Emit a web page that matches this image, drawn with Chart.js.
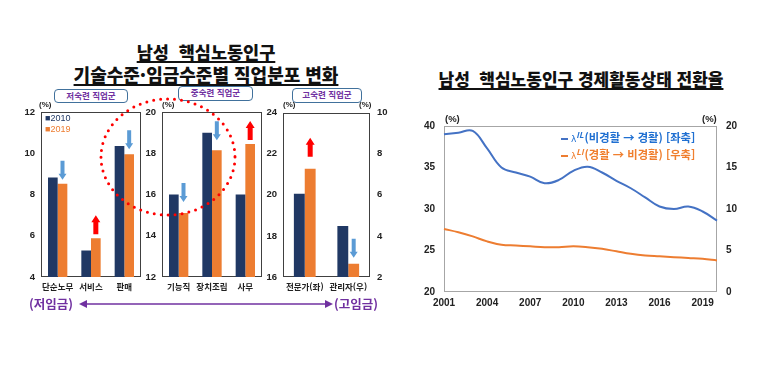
<!DOCTYPE html>
<html lang="ko">
<head>
<meta charset="utf-8">
<script src="https://cdn.jsdelivr.net/npm/chart.js@4"></script>
<style>
  html, body { margin: 0; padding: 0; background: #fff; }
  #page { position: relative; width: 779px; height: 382px; overflow: hidden; font-family: "Noto Sans CJK KR", sans-serif; }
  canvas { position: absolute; }
  .abs { position: absolute; white-space: nowrap; }
  .title { font-weight: 900; color: #111; text-align: center; text-decoration: underline; text-decoration-thickness: 1.5px; text-underline-offset: 2px; text-decoration-skip-ink: none; }
  .tag { position: absolute; border: 1.5px solid #41719C; border-radius: 4px; color: #7030A0; font-weight: 700; font-size: 8.5px; line-height: 11px; text-align: center; box-sizing: border-box; background: #fff; }
  .pct { position: absolute; font: bold 8px "Liberation Sans", Arial, sans-serif; color: #222; }
  .leg { position: absolute; font: 9px "Liberation Sans", Arial, sans-serif; line-height: 11px; }
  .lg { position: absolute; font-weight: 700; font-size: 11.3px; line-height: 14px; white-space: nowrap; }
  .lg .sw { display: inline-block; width: 7px; height: 2px; vertical-align: middle; margin-right: 3px; }
  .lg .lam { font-weight: 400; font-family: "DejaVu Sans", sans-serif; font-size: 9px; }
  .lg sup { font-style: italic; font-size: 8px; vertical-align: 4px; margin-right: 1px; }
</style>
</head>
<body>
<div id="page">
  <div class="abs title" style="left:0;width:412px;top:42px;font-size:17.5px;line-height:20px;">남성&nbsp;&nbsp;핵심노동인구</div>
  <div class="abs title" style="left:0;width:412px;top:64px;font-size:18px;line-height:20px;">기술수준·임금수준별 직업분포 변화</div>
  <div class="abs title" style="left:400px;width:362px;top:69px;font-size:17px;line-height:20px;">남성&nbsp;&nbsp;핵심노동인구 경제활동상태 전환율</div>

  <div class="tag" style="left:54px;top:89px;width:74px;height:14px;">저숙련 직업군</div>
  <div class="tag" style="left:178px;top:86px;width:75px;height:15px;">중숙련 직업군</div>
  <div class="tag" style="left:292px;top:88px;width:70px;height:15px;">고숙련 직업군</div>

  <canvas id="low" width="150" height="200" style="left:0;top:100px;"></canvas>
  <canvas id="mid" width="140" height="200" style="left:130px;top:100px;"></canvas>
  <canvas id="high" width="140" height="200" style="left:250px;top:100px;"></canvas>
  <canvas id="flow" width="379" height="215" style="left:400px;top:100px;"></canvas>

  <span class="pct" style="left:39px;top:100px;">(%)</span>
  <span class="pct" style="left:162px;top:100px;">(%)</span>
  <span class="pct" style="left:283px;top:100px;">(%)</span>
  <span class="pct" style="left:359px;top:100px;">(%)</span>
  <span class="pct" style="left:445px;top:113px;font-size:9.5px;">(%)</span>
  <span class="pct" style="left:702px;top:113px;font-size:9.5px;">(%)</span>

  <div class="leg" style="left:45px;top:113px;color:#203864;">■2010</div>
  <div class="leg" style="left:45px;top:124px;color:#ED7D31;">■2019</div>

  <div class="lg" style="left:561px;top:128px;color:#1F6FD1;"><span class="sw" style="background:#4472C4"></span><span class="lam">λ</span><sup>IL</sup>(비경활 → 경활) [좌축]</div>
  <div class="lg" style="left:561px;top:145px;color:#F07F2E;"><span class="sw" style="background:#ED7D31"></span><span class="lam">λ</span><sup>LI</sup>(경활 → 비경활) [우축]</div>

  <div class="abs" style="left:29px;top:296px;font-size:12.5px;line-height:16px;font-weight:700;color:#7030A0;">(저임금)</div>
  <div class="abs" style="left:334px;top:296px;font-size:12.5px;line-height:16px;font-weight:700;color:#7030A0;">(고임금)</div>

  <svg class="abs" width="779" height="382" style="left:0;top:0;pointer-events:none;">
    <ellipse cx="168" cy="157" rx="67" ry="58" fill="none" stroke="#FF0000" stroke-width="3" stroke-dasharray="0 7" stroke-linecap="round"/>
    <line x1="84" y1="304" x2="328" y2="304" stroke="#7030A0" stroke-width="1.5"/>
    <polygon points="79,304 87,300 87,308" fill="#7030A0"/>
    <polygon points="333,304 325,300 325,308" fill="#7030A0"/>
  </svg>
</div>

<script>
// 직업분포 (%) - 2010 vs 2019
const lowCats = ['단순노무', '서비스', '판매'];
const low2010 = [8.83, 5.28, 10.35];
const low2019 = [8.52, 5.88, 9.95];
const lowTicks = [4, 6, 8, 10, 12];

const midCats = ['기능직', '장치조립', '사무'];
const mid2010 = [16.0, 19.0, 16.0];
const mid2019 = [15.1, 18.15, 18.45];
const midTicks = [12, 14, 16, 18, 20];

const highCats = ['전문가(좌)', '관리자(우)'];
const high2010 = [20.05, 4.48];
const high2019 = [21.27, 2.65];
const highLeftTicks = [16, 18, 20, 22, 24];
const highRightTicks = [2, 4, 6, 8, 10];

// 경제활동상태 전환율 (%)
const years = ['2001', '2002', '2003', '2004', '2005', '2006', '2007', '2008', '2009', '2010',
               '2011', '2012', '2013', '2014', '2015', '2016', '2017', '2018', '2019', '2020'];
const inflow = [39.0, 39.2, 39.4, 37.3, 35.0, 34.4, 33.9, 33.1, 33.5, 34.6,
                35.1, 34.4, 33.4, 32.5, 31.4, 30.3, 30.0, 30.3, 29.7, 28.6];
const outflow = [7.6, 7.2, 6.7, 6.1, 5.7, 5.6, 5.5, 5.4, 5.4, 5.5,
                 5.4, 5.2, 4.9, 4.6, 4.4, 4.3, 4.2, 4.1, 4.0, 3.8];
const flowLeftTicks = [20, 25, 30, 35, 40];
const flowRightTicks = [0, 5, 10, 15, 20];

const NAVY = '#203864';
const ORANGE = '#ED7D31';

const framePlugin = {
  id: 'frame',
  beforeDatasetsDraw(chart, args, opts) {
    const { ctx, chartArea: a } = chart;
    ctx.save();
    ctx.strokeStyle = opts.color || '#404040';
    ctx.lineWidth = 1;
    ctx.strokeRect(Math.round(a.left) + 0.5, Math.round(a.top) + 0.5, Math.round(a.width) - 1, Math.round(a.height) - 1);
    ctx.restore();
  }
};

// up/down arrows drawn above the 2019 bars
const arrowPlugin = {
  id: 'arrows',
  afterDatasetsDraw(chart, args, opts) {
    const ctx = chart.ctx;
    (opts.items || []).forEach(a => {
      const bar = chart.getDatasetMeta(a.ds).data[a.i];
      if (!bar) return;
      const up = a.dir === 'up';
      const x = bar.x, len = 19;
      const bottom = bar.y - a.gap, top = bottom - len;
      const headH = up ? 7 : 6, headW = up ? 9 : 8, shaft = up ? 5 : 4;
      ctx.save();
      ctx.fillStyle = up ? '#FF0000' : '#5B9BD5';
      ctx.beginPath();
      if (up) {
        ctx.moveTo(x, top);
        ctx.lineTo(x + headW / 2, top + headH);
        ctx.lineTo(x + shaft / 2, top + headH);
        ctx.lineTo(x + shaft / 2, bottom);
        ctx.lineTo(x - shaft / 2, bottom);
        ctx.lineTo(x - shaft / 2, top + headH);
        ctx.lineTo(x - headW / 2, top + headH);
      } else {
        ctx.moveTo(x, bottom);
        ctx.lineTo(x + headW / 2, bottom - headH);
        ctx.lineTo(x + shaft / 2, bottom - headH);
        ctx.lineTo(x + shaft / 2, top);
        ctx.lineTo(x - shaft / 2, top);
        ctx.lineTo(x - shaft / 2, bottom - headH);
        ctx.lineTo(x - headW / 2, bottom - headH);
      }
      ctx.closePath();
      ctx.fill();
      ctx.restore();
    });
  }
};

const tickFont = { family: "'Liberation Sans', Arial, sans-serif", size: 9.5, weight: 'bold' };
const catFont = { family: "'Noto Sans CJK KR', sans-serif", size: 8.5, weight: 'bold' };

function yAxis(ticks, width, position, pad) {
  return {
    position: position || 'left',
    min: ticks[0],
    max: ticks[ticks.length - 1],
    grid: { display: false, drawTicks: false },
    border: { display: false },
    ticks: { font: tickFont, color: '#222', padding: pad || 6 },
    afterBuildTicks: s => { s.ticks = ticks.map(v => ({ value: v })); },
    afterFit: s => { s.width = width; }
  };
}

function xAxis() {
  return {
    grid: { display: false, drawTicks: false },
    border: { display: false },
    ticks: { font: catFont, color: '#222', padding: 5, autoSkip: false, maxRotation: 0 },
    afterFit: s => { s.height = 23; }
  };
}

function bars(id, labels, datasets, scales, padRight, arrows, catPct) {
  return new Chart(document.getElementById(id), {
    type: 'bar',
    data: { labels, datasets },
    options: {
      responsive: false,
      animation: false,
      datasets: { bar: { categoryPercentage: catPct, barPercentage: 1, borderWidth: 0 } },
      layout: { padding: { top: 12, right: padRight, left: 0, bottom: 0 } },
      plugins: {
        legend: { display: false },
        tooltip: { enabled: false },
        arrows: { items: arrows },
        frame: { color: '#404040' }
      },
      scales
    },
    plugins: [framePlugin, arrowPlugin]
  });
}

bars('low', lowCats, [
  { label: '2010', data: low2010, backgroundColor: NAVY },
  { label: '2019', data: low2019, backgroundColor: ORANGE }
], { x: xAxis(), y: yAxis(lowTicks, 41) }, 9, [
  { ds: 1, i: 0, dir: 'down', gap: 4 },
  { ds: 1, i: 1, dir: 'up', gap: 4 },
  { ds: 1, i: 2, dir: 'down', gap: 5 }
], 0.58);

bars('mid', midCats, [
  { label: '2010', data: mid2010, backgroundColor: NAVY },
  { label: '2019', data: mid2019, backgroundColor: ORANGE }
], { x: xAxis(), y: yAxis(midTicks, 32) }, 8, [
  { ds: 1, i: 0, dir: 'down', gap: 11 },
  { ds: 1, i: 1, dir: 'down', gap: 10 },
  { ds: 1, i: 2, dir: 'up', gap: 4 }
], 0.58);

bars('high', highCats, [
  { label: '2010', data: [high2010[0], null], backgroundColor: NAVY, yAxisID: 'y', skipNull: true },
  { label: '2019', data: [high2019[0], null], backgroundColor: ORANGE, yAxisID: 'y', skipNull: true },
  { label: '2010', data: [null, high2010[1]], backgroundColor: NAVY, yAxisID: 'y2', skipNull: true },
  { label: '2019', data: [null, high2019[1]], backgroundColor: ORANGE, yAxisID: 'y2', skipNull: true }
], {
  x: xAxis(),
  y: yAxis(highLeftTicks, 33),
  y2: yAxis(highRightTicks, 20, 'right', 7)
}, 0, [
  { ds: 1, i: 0, dir: 'up', gap: 12 },
  { ds: 3, i: 1, dir: 'down', gap: 6 }
], 0.5);

const flowTickFont = { family: "'Liberation Sans', Arial, sans-serif", size: 10, weight: 'bold' };

new Chart(document.getElementById('flow'), {
  type: 'line',
  data: {
    labels: years,
    datasets: [
      { label: 'λIL', data: inflow, borderColor: '#4472C4', borderWidth: 2, pointRadius: 0, tension: 0.4, yAxisID: 'y' },
      { label: 'λLI', data: outflow, borderColor: ORANGE, borderWidth: 2, pointRadius: 0, tension: 0.4, yAxisID: 'y2' }
    ]
  },
  options: {
    responsive: false,
    animation: false,
    layout: { padding: { top: 26, right: 32, left: 0, bottom: 0 } },
    plugins: {
      legend: { display: false },
      tooltip: { enabled: false },
      frame: { color: '#A6A6A6' }
    },
    scales: {
      x: {
        grid: { display: false, drawTicks: false },
        border: { display: false },
        ticks: {
          font: flowTickFont, color: '#222', padding: 5, autoSkip: false, maxRotation: 0,
          callback: (v, i) => (i % 3 === 0 ? years[i] : '')
        },
        afterFit: s => { s.height = 23; }
      },
      y: {
        min: flowLeftTicks[0], max: flowLeftTicks[flowLeftTicks.length - 1],
        grid: { display: false, drawTicks: false },
        border: { display: false },
        ticks: { font: flowTickFont, color: '#222', padding: 9 },
        afterBuildTicks: s => { s.ticks = flowLeftTicks.map(v => ({ value: v })); },
        afterFit: s => { s.width = 44; }
      },
      y2: {
        position: 'right',
        min: flowRightTicks[0], max: flowRightTicks[flowRightTicks.length - 1],
        grid: { display: false, drawTicks: false },
        border: { display: false },
        ticks: { font: flowTickFont, color: '#222', padding: 9 },
        afterBuildTicks: s => { s.ticks = flowRightTicks.map(v => ({ value: v })); },
        afterFit: s => { s.width = 30; }
      }
    }
  },
  plugins: [framePlugin]
});
</script>
</body>
</html>
